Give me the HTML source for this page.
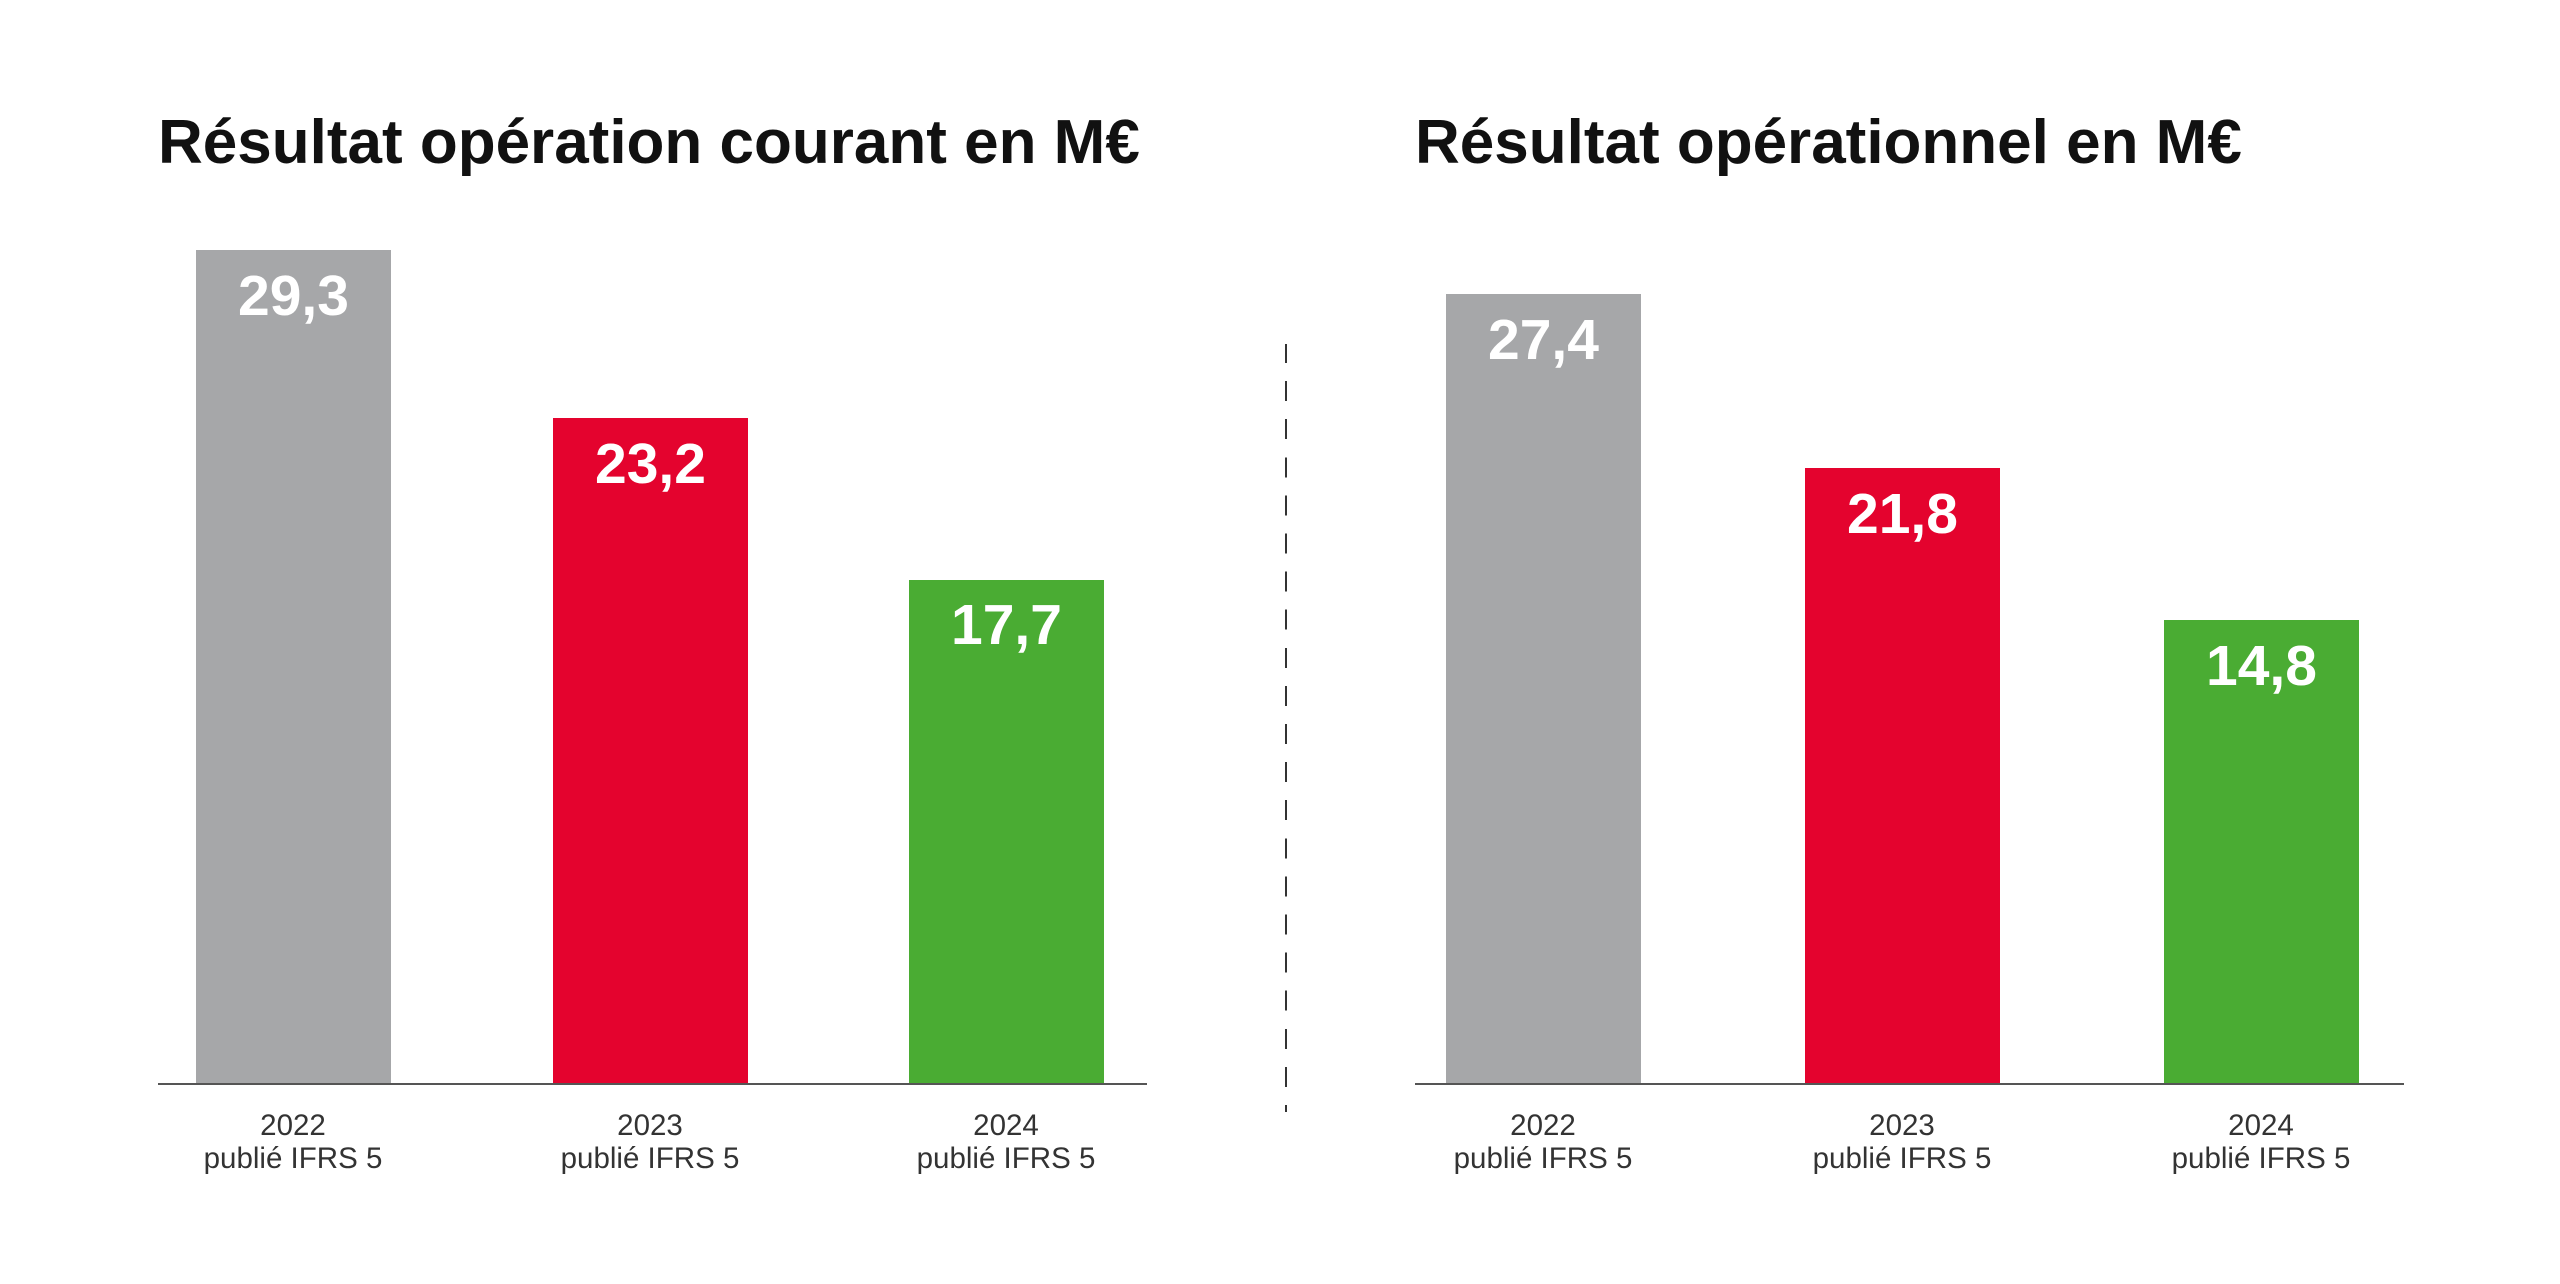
<!DOCTYPE html>
<html><head><style>
html,body{margin:0;padding:0;background:#fff;}
body{width:2560px;height:1284px;position:relative;overflow:hidden;font-family:"Liberation Sans",sans-serif;}
.t{position:absolute;font-weight:bold;font-size:62px;color:#111;white-space:nowrap;line-height:1;}
.b{position:absolute;width:195px;}
.v{position:absolute;width:195px;text-align:center;color:#fff;font-weight:bold;font-size:57px;line-height:1;}
.ax{position:absolute;height:2px;background:#555;}
.c{position:absolute;width:300px;text-align:center;color:#333;font-size:29.5px;line-height:33px;}
</style></head><body>
<div class="t" style="left:158px;top:112px">Résultat opération courant en M€</div>
<div class="t" style="left:1415px;top:112px">Résultat opérationnel en M€</div>

<div class="b" style="left:196px;top:250px;height:834px;background:#a6a7a9"></div>
<div class="v" style="left:196px;top:268px">29,3</div>
<div class="b" style="left:553px;top:418px;height:666px;background:#e4032e"></div>
<div class="v" style="left:553px;top:436px">23,2</div>
<div class="b" style="left:909px;top:580px;height:504px;background:#4aac33"></div>
<div class="v" style="left:909px;top:597px">17,7</div>
<div class="ax" style="left:158px;width:989px;top:1083px"></div>

<div class="b" style="left:1446px;top:294px;height:790px;background:#a6a7a9"></div>
<div class="v" style="left:1446px;top:312px">27,4</div>
<div class="b" style="left:1805px;top:468px;height:616px;background:#e4032e"></div>
<div class="v" style="left:1805px;top:486px">21,8</div>
<div class="b" style="left:2164px;top:620px;height:464px;background:#4aac33"></div>
<div class="v" style="left:2164px;top:638px">14,8</div>
<div class="ax" style="left:1415px;width:989px;top:1083px"></div>

<div style="position:absolute;left:1285px;top:344px;width:0;height:768px;border-left:2px dashed #333;border-image:repeating-linear-gradient(to bottom,#333 0 20px,transparent 20px 38px) 1;"></div>

<div class="c" style="left:143px;top:1109px">2022<br>publié IFRS 5</div>
<div class="c" style="left:500px;top:1109px">2023<br>publié IFRS 5</div>
<div class="c" style="left:856px;top:1109px">2024<br>publié IFRS 5</div>
<div class="c" style="left:1393px;top:1109px">2022<br>publié IFRS 5</div>
<div class="c" style="left:1752px;top:1109px">2023<br>publié IFRS 5</div>
<div class="c" style="left:2111px;top:1109px">2024<br>publié IFRS 5</div>
</body></html>
